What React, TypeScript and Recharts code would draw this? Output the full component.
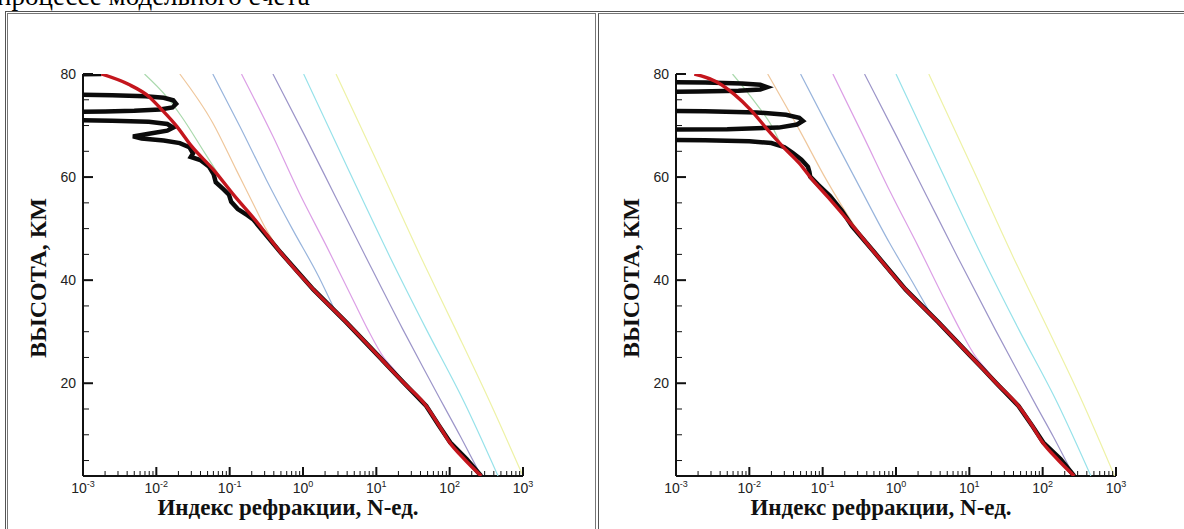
import React from 'react';
import { ScatterChart, Scatter, XAxis, YAxis } from 'recharts';

// [высота, км ; N-ед.]
type Pt = [number, number];

const HEADER = 'процессе модельного счета';
const X_TITLE = 'Индекс рефракции, N-ед.';
const Y_TITLE = 'ВЫСОТА, КМ';

const HEIGHT_TICKS = [5, 10, 15, 20, 25, 30, 35, 40, 45, 50, 55, 60, 65, 70, 75, 80];
const HEIGHT_LABELS = [20, 40, 60, 80];
const N_DECADES = [0.001, 0.01, 0.1, 1, 10, 100, 1000];
const N_DECADE_EXP = ['-3', '-2', '-1', '0', '1', '2', '3'];
const N_MINOR_STEPS = [2, 3, 4, 5, 6, 7, 8, 9];

// left panel
const LEFT_RED: Pt[] = [
  [80, 0.00178], [78, 0.00417], [75.6, 0.00794], [73, 0.012], [69.8, 0.0191], [66, 0.0302],
  [61.4, 0.0603], [56.3, 0.117], [51.8, 0.219], [45.3, 0.5], [38.2, 1.38], [31.8, 3.9],
  [25.4, 10.5], [22.7, 15.8], [20, 24], [15.6, 47.9], [11.7, 72.4], [8.5, 100], [5.3, 158], [2, 269],
];
const LEFT_BLACK: Pt[] = [
  [80, 0.00178], [79.8, 0.0002], [76.1, 0.0002], [75.9, 0.0025], [75.7, 0.0071], [75.4, 0.0126],
  [74.9, 0.017], [74.2, 0.0186], [73.5, 0.0166], [73.1, 0.0112], [72.85, 0.005], [72.7, 0.002],
  [72.6, 0.0002], [71.1, 0.0002], [70.95, 0.0025], [70.75, 0.0079], [70.3, 0.0141], [69.6, 0.017],
  [69, 0.0141], [68.4, 0.0079], [67.9, 0.0048], [67.5, 0.0063], [67.1, 0.0126], [66.6, 0.0209],
  [65.8, 0.0282], [64.6, 0.0316], [63.9, 0.0295], [63.3, 0.0398], [62, 0.0525], [60.6, 0.0603],
  [59, 0.0646], [57.7, 0.0813], [56.6, 0.0977], [55.2, 0.105], [53.8, 0.129], [52.6, 0.174],
  [51.8, 0.209], [45.3, 0.5], [38.2, 1.38], [31.8, 3.9], [25.4, 10.5], [22.7, 15.8], [20, 24],
  [15.6, 47.9], [11.7, 72], [8.5, 102], [5.3, 170], [2, 269],
];
const LEFT_GREEN: Pt[] = [[80, 0.0069], [75.6, 0.0138], [71.8, 0.0219], [64.7, 0.0457], [58.9, 0.083]];
const LEFT_ORANGE: Pt[] = [[80, 0.0209], [70.5, 0.0589], [61.4, 0.123], [53.7, 0.229], [49.8, 0.316], [44, 0.6]];
const LEFT_BLUE: Pt[] = [[80, 0.0589], [69.8, 0.138], [59.5, 0.316], [49.8, 0.724], [40.8, 1.62], [34, 2.75]];
const LEFT_MAGENTA: Pt[] = [[80, 0.145], [67.9, 0.389], [56.9, 0.891], [46.6, 2.09], [35.7, 5], [30.5, 7.6], [25, 12.6], [22.5, 17.8], [20, 24]];
const LEFT_PURPLE: Pt[] = [[80, 0.389], [67.9, 1.07], [56.3, 2.75], [44.7, 7.08], [30.5, 22.9], [22.7, 44.7], [15.6, 83.2], [9.6, 141], [4.4, 219], [2, 269]];
const LEFT_CYAN: Pt[] = [[80, 1.02], [61.4, 4.17], [44.7, 15.1], [30.5, 47.9], [16.3, 158], [2, 457]];
const LEFT_YELLOW: Pt[] = [[80, 2.82], [61.4, 11.5], [44.7, 39.8], [30.5, 120], [16.3, 355], [2, 1000]];

// right panel
const RIGHT_RED: Pt[] = [
  [80, 0.00178], [78.5, 0.00355], [76, 0.0063], [73, 0.0105], [69, 0.0182], [66, 0.0282],
  [62.7, 0.0479], [60, 0.0676], [56, 0.12], [51, 0.24], [45.5, 0.5], [38.2, 1.35], [31.8, 3.8],
  [25.4, 10.2], [22.7, 15.5], [20, 23.4], [15.6, 46.8], [11.7, 72.4], [8.5, 100], [5.3, 158], [2, 269],
];
const RIGHT_BLACK: Pt[] = [
  [80, 0.0002], [78.5, 0.0002], [78.35, 0.0025], [78.15, 0.0079], [77.9, 0.0141], [77.45, 0.0174],
  [77, 0.0141], [76.75, 0.0071], [76.6, 0.002], [76.5, 0.0002], [72.9, 0.0002], [72.75, 0.0025],
  [72.55, 0.0126], [72.1, 0.0316], [71.5, 0.0479], [70.9, 0.0537], [70.2, 0.0447], [69.6, 0.0251],
  [69.3, 0.005], [69.2, 0.0002], [67.3, 0.0002], [67.15, 0.0025], [66.95, 0.01], [66.6, 0.02],
  [65.8, 0.0302], [64.7, 0.0389], [63.4, 0.0513], [62, 0.063], [61, 0.066], [60.1, 0.0676],
  [58.5, 0.087], [56.3, 0.126], [53.5, 0.182], [50.5, 0.251], [45.5, 0.5], [38.2, 1.35], [31.8, 3.8],
  [25.4, 10.2], [22.7, 15.5], [20, 23.4], [15.6, 46.8], [11.7, 72.4], [8.5, 102], [5.3, 175], [2, 269],
];
const RIGHT_GREEN: Pt[] = [[80, 0.0059], [74.3, 0.0123], [69.5, 0.021], [66.6, 0.0263]];
const RIGHT_ORANGE: Pt[] = [[80, 0.0178], [69.2, 0.0479], [59.5, 0.112], [51.1, 0.257], [44.7, 0.56]];
const RIGHT_BLUE: Pt[] = [[80, 0.05], [67.9, 0.138], [58.2, 0.316], [47.3, 0.81], [39.5, 1.7], [33.7, 2.9]];
const RIGHT_MAGENTA: Pt[] = [[80, 0.138], [67.9, 0.36], [56.9, 0.85], [46.6, 2], [35.7, 4.8], [30.5, 7.4], [25, 12.4], [22.5, 17.4], [20, 23.4]];
const RIGHT_PURPLE: Pt[] = [[80, 0.372], [67.9, 1.02], [56.3, 2.63], [44.7, 6.8], [30.5, 22.4], [22.7, 44], [15.6, 82], [9.6, 140], [4.4, 217], [2, 265]];
const RIGHT_CYAN: Pt[] = [[80, 1], [61.4, 4.1], [44.7, 14.8], [30.5, 47], [16.3, 157], [2, 455]];
const RIGHT_YELLOW: Pt[] = [[80, 2.8], [61.4, 11.3], [44.7, 39], [30.5, 118], [16.3, 350], [2, 955]];

const MODEL_COLORS = ['#a9d9ac', '#efc79c', '#98b4dc', '#dc9fe6', '#9c95c9', '#97e2ea', '#eef2a6'];

const N_TICKS = N_DECADES.flatMap((d, i) =>
  i < N_DECADES.length - 1 ? [d, ...N_MINOR_STEPS.map((s) => +(d * s).toPrecision(3))] : [d]
);

const toRows = (pts: Pt[]) => pts.map(([h, n]) => ({ h, n }));
const Empty = () => <g />;

const SANS = "'Liberation Sans', Arial, sans-serif";
const SERIF = "'Liberation Serif', 'Times New Roman', serif";

const NTick = (props: any) => {
  const { x, y, payload } = props;
  const i = N_DECADES.indexOf(payload.value);
  const major = i >= 0;
  return (
    <g>
      <line x1={x} x2={x} y1={y} y2={y - (major ? 9 : 5)} stroke="#111" strokeWidth={major ? 2 : 1} />
      {major && (
        <text x={x} y={y + 17} textAnchor="middle" fontFamily={SANS} fontSize={14} fill="#222">
          10<tspan dy={-6} fontSize={9}>{N_DECADE_EXP[i]}</tspan>
        </text>
      )}
    </g>
  );
};

const HTick = (props: any) => {
  const { x, y, payload } = props;
  const major = HEIGHT_LABELS.includes(payload.value);
  return (
    <g>
      <line x1={x} x2={x + (major ? 10 : 6)} y1={y} y2={y} stroke="#111" strokeWidth={major ? 2 : 1} />
      {major && (
        <text x={x - 7} y={y} dy="0.35em" textAnchor="end" fontFamily={SANS} fontSize={14} fill="#222">
          {payload.value}
        </text>
      )}
    </g>
  );
};

type PanelProps = { left: number; red: Pt[]; black: Pt[]; models: Pt[][] };

const Panel = ({ left, red, black, models }: PanelProps) => (
  <div style={{ position: 'absolute', left, top: 0, width: 593, height: 529 }}>
    <ScatterChart width={593} height={529} margin={{ top: 74, right: 70, bottom: 22, left: 33 }}>
      <XAxis
        type="number" dataKey="n" scale="log" domain={[0.001, 1000]} allowDataOverflow
        ticks={N_TICKS} interval={0} tick={NTick} tickLine={false} tickSize={0} tickMargin={0}
        axisLine={{ stroke: '#111', strokeWidth: 2 }} height={31}
      />
      <YAxis
        type="number" dataKey="h" domain={[2, 80]} allowDataOverflow
        ticks={HEIGHT_TICKS} interval={0} tick={HTick} tickLine={false} tickSize={0} tickMargin={0}
        axisLine={{ stroke: '#111', strokeWidth: 2 }} width={50}
      />
      {models.map((pts, i) => (
        <Scatter key={i} data={toRows(pts)} line={{ stroke: MODEL_COLORS[i], strokeWidth: 1.2 }}
          lineJointType="monotoneX" shape={Empty} isAnimationActive={false} />
      ))}
      <Scatter data={toRows(black)} line={{ stroke: '#0b0b0b', strokeWidth: 4.5 }} shape={Empty} isAnimationActive={false} />
      <Scatter data={toRows(red)} line={{ stroke: '#c4161d', strokeWidth: 3.4 }}
        lineJointType="monotoneX" shape={Empty} isAnimationActive={false} />
    </ScatterChart>
    <div style={{
      position: 'absolute', left: 38, top: 278, transform: 'translate(-50%, -50%) rotate(-90deg)',
      fontFamily: SERIF, fontWeight: 'bold', fontSize: 24, whiteSpace: 'nowrap', color: '#111',
    }}>{Y_TITLE}</div>
    <div style={{
      position: 'absolute', left: 288, top: 496, transform: 'translateX(-50%)', lineHeight: 1,
      fontFamily: SERIF, fontWeight: 'bold', fontSize: 23, whiteSpace: 'nowrap', color: '#111',
    }}>{X_TITLE}</div>
  </div>
);

export default function App() {
  return (
    <div style={{ position: 'absolute', left: 0, top: 0, width: 1184, height: 529, overflow: 'hidden', background: '#fff' }}>
      <div style={{ position: 'absolute', left: -3, top: -17, fontFamily: SERIF, fontSize: 27, lineHeight: 1, whiteSpace: 'nowrap', color: '#000' }}>
        {HEADER}
      </div>
      <div style={{ position: 'absolute', left: 5, top: 11, width: 1300, height: 600, borderTop: '1px solid #555', borderLeft: '1px solid #555' }} />
      <div style={{ position: 'absolute', left: 7, top: 13, width: 587, height: 600, border: '1px solid #777' }} />
      <div style={{ position: 'absolute', left: 598, top: 13, width: 700, height: 600, borderTop: '1px solid #777', borderLeft: '1px solid #555' }} />
      <Panel left={0} red={LEFT_RED} black={LEFT_BLACK}
        models={[LEFT_GREEN, LEFT_ORANGE, LEFT_BLUE, LEFT_MAGENTA, LEFT_PURPLE, LEFT_CYAN, LEFT_YELLOW]} />
      <Panel left={593} red={RIGHT_RED} black={RIGHT_BLACK}
        models={[RIGHT_GREEN, RIGHT_ORANGE, RIGHT_BLUE, RIGHT_MAGENTA, RIGHT_PURPLE, RIGHT_CYAN, RIGHT_YELLOW]} />
    </div>
  );
}
